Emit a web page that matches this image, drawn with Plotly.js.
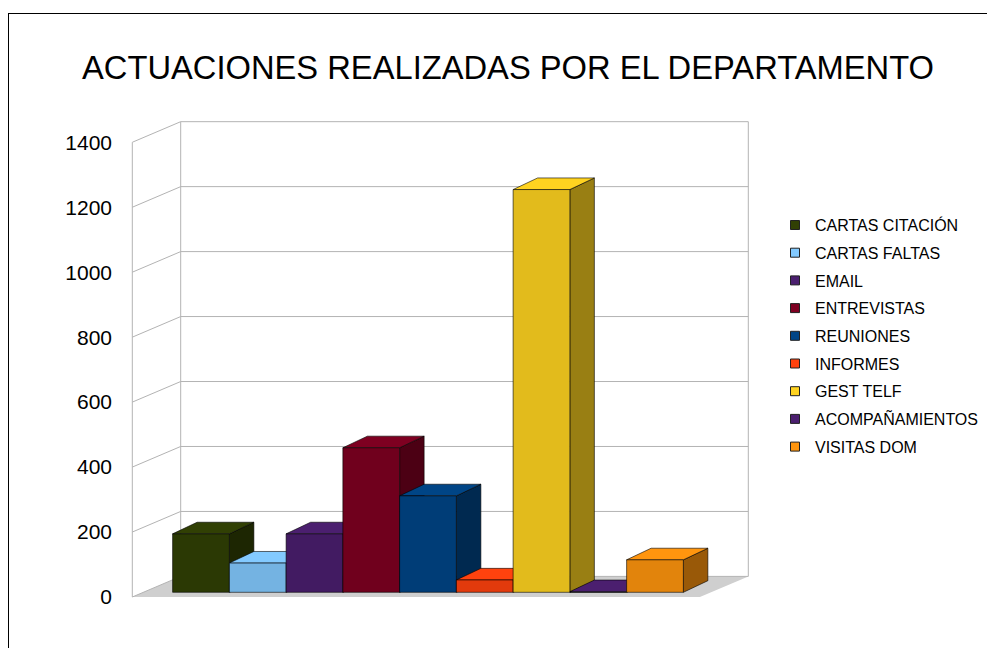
<!DOCTYPE html>
<html>
<head>
<meta charset="utf-8">
<script src="https://cdn.plot.ly/plotly-3.0.1.min.js"></script>
<style>
  html, body { margin: 0; padding: 0; background: #ffffff; overflow: hidden; }
  #chart { width: 987px; height: 648px; position: absolute; left: 0; top: 0; }
  #frame { position: absolute; left: 8px; top: 13px; width: 2000px; height: 2000px;
           border-left: 1px solid #000; border-top: 1px solid #000; pointer-events: none; }
</style>
</head>
<body>
<div id="chart"></div>
<div id="frame"></div>
<script>
// ---- data ----
const categories = ['CARTAS CITACIÓN', 'CARTAS FALTAS', 'EMAIL', 'ENTREVISTAS', 'REUNIONES',
                    'INFORMES', 'GEST TELF', 'ACOMPAÑAMIENTOS', 'VISITAS DOM'];
const values = [180, 90, 180, 445, 297, 38, 1240, 2, 100];
const colors = ['#314004', '#83caff', '#4b1f6f', '#7e0021', '#004586',
                '#ff420e', '#ffd320', '#4b1f6f', '#ff950e'];
const yTicks = [0, 200, 400, 600, 800, 1000, 1200, 1400];
const titleText = 'ACTUACIONES REALIZADAS POR EL DEPARTAMENTO';

// ---- layout geometry (pixels) ----
const W = 987, H = 648;
const L = 128, R = 765, T = 118, B = 600;
const PX_PER_CAT = 56.75;    // bar width
const CAT0_PX = 201.0;       // center of first bar front face
const K = 0.3248;            // px per value unit
const Y0_PX = 597;           // front plane zero
const toX = px => (px - CAT0_PX) / PX_PER_CAT;
const toDY = px => px / K;

const FL = toX(132.3), BL = toX(180.7), BR = toX(748.3), FR = FL + (BR - BL);
const WALL_DY = toDY(20.6);
const BASE = toDY(4.7);
const BAR_DX = 24.5 / PX_PER_CAT;
const BAR_DY = toDY(11.6);

function shade(hex, f) {
  const n = parseInt(hex.slice(1), 16);
  const r = Math.round(((n >> 16) & 255) * f);
  const g = Math.round(((n >> 8) & 255) * f);
  const b = Math.round((n & 255) * f);
  return 'rgb(' + r + ',' + g + ',' + b + ')';
}

const traces = [];

// floor
traces.push({
  type: 'scatter', mode: 'lines', fill: 'toself', fillcolor: '#cfcfcf',
  x: [FL, FR, BR, BL, FL], y: [0, 0, WALL_DY, WALL_DY, 0],
  line: { width: 0, color: 'rgba(0,0,0,0)' }, hoverinfo: 'skip', showlegend: false
});

// walls / gridlines
const gx = [], gy = [];
yTicks.forEach(t => {
  gx.push(BL, BR, null, FL, BL, null);
  gy.push(t + WALL_DY, t + WALL_DY, null, t, t + WALL_DY, null);
});
const topT = yTicks[yTicks.length - 1];
gx.push(FL, FL, null, BL, BL, null, BR, BR, null);
gy.push(0, topT, null, WALL_DY, topT + WALL_DY, null, WALL_DY, topT + WALL_DY, null);
traces.push({
  type: 'scatter', mode: 'lines', x: gx, y: gy, connectgaps: false,
  line: { width: 1, color: '#b3b3b3' }, hoverinfo: 'skip', showlegend: false
});

// 3D bars
const edge = { width: 0.8, color: 'rgba(0,0,0,0.75)' };
values.forEach((v, i) => {
  const xl = i - 0.5, xr = i + 0.5, y0 = BASE, y1 = BASE + v;
  // side
  traces.push({
    type: 'scatter', mode: 'lines', fill: 'toself', fillcolor: shade(colors[i], 0.6),
    x: [xr, xr + BAR_DX, xr + BAR_DX, xr, xr], y: [y0, y0 + BAR_DY, y1 + BAR_DY, y1, y0],
    line: edge, hoverinfo: 'skip', showlegend: false
  });
  // top
  traces.push({
    type: 'scatter', mode: 'lines', fill: 'toself', fillcolor: colors[i],
    x: [xl, xr, xr + BAR_DX, xl + BAR_DX, xl], y: [y1, y1, y1 + BAR_DY, y1 + BAR_DY, y1],
    line: edge, hoverinfo: 'skip', showlegend: false
  });
  // front
  traces.push({
    type: 'scatter', mode: 'lines', fill: 'toself', fillcolor: shade(colors[i], 0.885),
    x: [xl, xr, xr, xl, xl], y: [y0, y0, y1, y1, y0],
    line: edge, name: categories[i], hovertemplate: categories[i] + ': ' + v + '<extra></extra>',
    showlegend: false
  });
});

// legend entries
categories.forEach((c, i) => {
  traces.push({
    type: 'scatter', mode: 'markers', x: [null], y: [null], name: c,
    legendgroup: 'g' + i,
    marker: { symbol: 'square', size: 9, color: colors[i], line: { width: 1, color: '#222' } },
    showlegend: true, hoverinfo: 'skip'
  });
});

const layout = {
  width: W, height: H,
  margin: { l: L, r: W - R, t: T, b: H - B, pad: 0, autoexpand: false },
  paper_bgcolor: '#ffffff', plot_bgcolor: 'rgba(0,0,0,0)',
  font: { family: '"Liberation Sans", Arial, sans-serif', color: '#000' },
  title: {
    text: titleText, font: { size: 32.7, color: '#000', family: '"Liberation Sans", Arial, sans-serif' },
    x: 508 / W, xref: 'container', xanchor: 'center',
    y: 1 - 68 / H, yref: 'container', yanchor: 'middle'
  },
  xaxis: { range: [toX(L), toX(R)], visible: false, fixedrange: true },
  yaxis: {
    range: [(Y0_PX - B) / K, (Y0_PX - T) / K],
    tickvals: yTicks, ticktext: yTicks.map(String),
    showgrid: false, zeroline: false, showline: false, ticks: '',
    ticklabelstandoff: 15,
    tickfont: { size: 21, color: '#000' }, fixedrange: true
  },
  showlegend: true,
  legend: {
    x: (775 - L) / (R - L), xanchor: 'left',
    y: (B - 208.1) / (B - T), yanchor: 'top',
    traceorder: 'grouped', tracegroupgap: 3.9,
    font: { size: 16, color: '#000' },
    bgcolor: 'rgba(0,0,0,0)', borderwidth: 0
  }
};

Plotly.newPlot('chart', traces, layout, { displayModeBar: false, staticPlot: true });
</script>
</body>
</html>
